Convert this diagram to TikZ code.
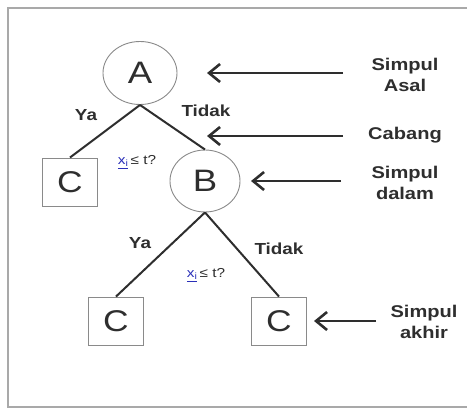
\documentclass[tikz,border=0pt]{standalone}
\usepackage{fontspec}
\setmainfont{Liberation Sans}[FakeStretch=1.18]
\usepackage{tikz}
\usetikzlibrary{arrows.meta,shapes.geometric}
\definecolor{cframe}{HTML}{A9A9A9}
\definecolor{cline}{HTML}{8A8A8A}
\definecolor{cink}{HTML}{2E2E2E}
\definecolor{cblue}{HTML}{2A2FB8}
\tikzset{
  circnode/.style={ellipse,draw=cline,line width=0.9pt,inner sep=0pt,
    font=\fontsize{31}{36}\selectfont,text=cink},
  leafbox/.style={rectangle,draw=cline,line width=0.9pt,inner sep=0pt,
    minimum width=55pt,minimum height=48pt,font=\fontsize{30}{36}\selectfont,text=cink},
  edge/.style={draw=cink,line width=2pt},
  pointer/.style={draw=cink,line width=2.6pt,-{Straight Barb[length=11pt,width=18pt]}},
  lbl/.style={font=\fontsize{17}{20.5}\selectfont\bfseries,text=cink,align=center},
  yesno/.style={font=\fontsize{16}{19}\selectfont\bfseries,text=cink},
  cond/.style={font=\fontsize{13}{15}\selectfont,text=cink},
}
\newcommand{\xcond}{{\color{cblue}\underline{x\textsubscript{i}}}\,≤ t?}

\begin{document}
\begin{tikzpicture}[x=1pt,y=-1pt]
\useasboundingbox (0,0) rectangle (467,410);
% frame, its right side runs off the page
\draw[cframe,line width=1.4pt] (467,8) -- (8,8) -- (8,407) -- (467,407);

% tree
\node[circnode,minimum width=74pt,minimum height=63pt] (A) at (140,73) {A};
\node[circnode,minimum width=70pt,minimum height=62pt] (B) at (205,181) {B};
\node[leafbox] (C1) at (70,182) {C};
\node[leafbox] (C2) at (116,321) {C};
\node[leafbox] (C3) at (279,321) {C};

\draw[edge] (A.south) -- (C1.north);
\draw[edge] (A.south) -- (B.north);
\draw[edge] (B.south) -- (C2.north);
\draw[edge] (B.south) -- (C3.north);

\node[yesno] (ya1) at (86,115) {Ya};
\node[yesno] (tidak1) at (206,111) {Tidak};
\node[cond] (q1) at (137,162) {\xcond};
\node[yesno] (ya2) at (140,243) {Ya};
\node[yesno] (tidak2) at (279,249) {Tidak};
\node[cond] (q2) at (206,275) {\xcond};

% legend on the right
\node[lbl] (asal) at (405,75) {Simpul\\Asal};
\node[lbl] (cabang) at (405,135) {Cabang};
\node[lbl] (dalam) at (405,183) {Simpul\\dalam};
\node[lbl] (akhir) at (424,322) {Simpul\\akhir};

\coordinate (sAsal) at (343,73);   \coordinate (tAsal) at (207,73);
\coordinate (sCabang) at (343,136); \coordinate (tCabang) at (207,136);
\coordinate (sDalam) at (341,181); \coordinate (tDalam) at (251,181);
\coordinate (sAkhir) at (376,321); \coordinate (tAkhir) at (314,321);

\draw[pointer] (sAsal) -- (tAsal);
\draw[pointer] (sCabang) -- (tCabang);
\draw[pointer] (sDalam) -- (tDalam);
\draw[pointer] (sAkhir) -- (tAkhir);

\end{tikzpicture}
\end{document}
